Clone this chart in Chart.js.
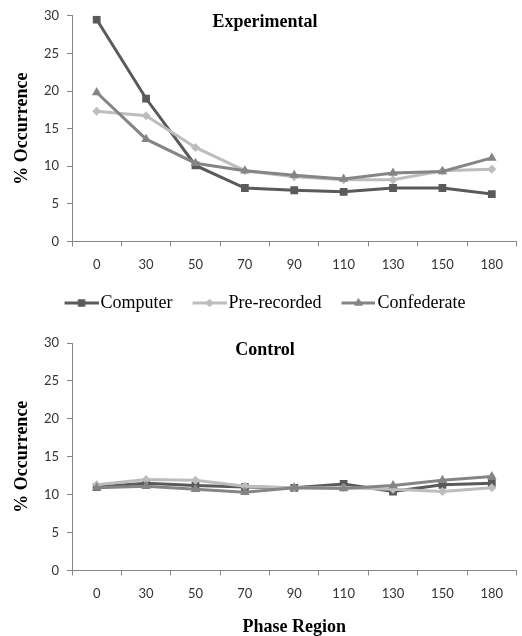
<!DOCTYPE html>
<html><head><meta charset="utf-8">
<script src="https://cdn.jsdelivr.net/npm/chart.js@4.4.0/dist/chart.umd.min.js"></script>
<style>
html,body{margin:0;padding:0;background:#fff;}
#wrap{width:522px;height:636px;position:relative;overflow:hidden;}
.box{position:absolute;left:0;width:522px;}
</style></head><body>
<div id="wrap">
  <div class="box" style="top:0;height:325px"><canvas id="c1" width="522" height="325"></canvas></div>
  <div class="box" style="top:325px;height:311px"><canvas id="c2" width="522" height="311"></canvas></div>
</div>
<script>
const phaseRegions = ['0','30','50','70','90','110','130','150','180'];
const seriesNames = ['Computer','Pre-recorded','Confederate'];
const expComputer    = [29.5, 19.0, 10.1, 7.1, 6.8, 6.6, 7.1, 7.1, 6.3];
const expPrerecorded = [17.3, 16.7, 12.5, 9.4, 8.6, 8.2, 8.2, 9.4, 9.6];
const expConfederate = [19.8, 13.6, 10.4, 9.4, 8.8, 8.3, 9.1, 9.3, 11.1];
const ctlComputer    = [11.0, 11.5, 11.2, 11.0, 10.9, 11.4, 10.4, 11.3, 11.5];
const ctlPrerecorded = [11.3, 12.0, 11.9, 11.1, 10.9, 10.9, 10.7, 10.4, 10.9];
const ctlConfederate = [10.9, 11.1, 10.7, 10.3, 10.9, 10.8, 11.2, 11.9, 12.4];
const yMin = 0, yMax = 30, yStep = 5;

const colors = ['#5a5a5a', '#bdbdbd', '#858585'];
const pStyles = ['rect', 'rectRot', 'triangle'];
const pRadius = [5.5, 4.5, 5.5];

// legend icon: transparent margin on the left, line + marker on the right
const ICON_W = 51, LINE_LEN = 34;
function makeIcon(i){
  const c = document.createElement('canvas');
  c.width = ICON_W; c.height = 12;
  const ctx = c.getContext('2d');
  const x0 = ICON_W - LINE_LEN;
  ctx.strokeStyle = colors[i]; ctx.lineWidth = 3;
  ctx.beginPath(); ctx.moveTo(x0,6); ctx.lineTo(ICON_W,6); ctx.stroke();
  ctx.fillStyle = colors[i];
  Chart.helpers.drawPoint(ctx, {pointStyle: pStyles[i], radius: pRadius[i]-0.5, rotation:0, borderWidth:0}, x0 + LINE_LEN/2, 6);
  ctx.fill();
  return c;
}

const panelTitle = {
  id: 'panelTitle',
  afterDatasetsDraw(chart, args, opts){
    if(!opts || !opts.text) return;
    const ctx = chart.ctx; ctx.save();
    ctx.font = 'bold 18px "Liberation Serif"';
    ctx.fillStyle = '#000'; ctx.textAlign = 'center'; ctx.textBaseline = 'middle';
    ctx.fillText(opts.text, opts.x, chart.chartArea.top + opts.dy);
    ctx.restore();
  }
};

function build(canvasId, title, values, showLegend, xTitle, padTop, padBottom){
  const icons = [0,1,2].map(makeIcon);
  const datasets = values.map((v,i)=>({
    label: seriesNames[i], data: v,
    borderColor: colors[i], backgroundColor: colors[i],
    borderWidth: 3, pointStyle: pStyles[i], pointRadius: pRadius[i],
    pointBackgroundColor: colors[i], pointBorderColor: colors[i], pointBorderWidth: 0,
    tension: 0, order: 3 - i
  }));
  const axisFont = {family:'Lato', size:13};
  return new Chart(document.getElementById(canvasId), {
    type: 'line',
    data: {labels: phaseRegions, datasets},
    plugins: [panelTitle],
    options: {
      responsive: false, animation: false,
      layout: {padding: {top: padTop, left: 0, right: 2, bottom: padBottom}},
      plugins: {
        tooltip: {enabled:false},
        panelTitle: {text: title, x: 265, dy: 7},
        legend: {
          display: showLegend, position: 'bottom',
          labels: {
            usePointStyle: true, pointStyleWidth: 37, boxHeight: 12, padding: 10,
            font: {family:'Liberation Serif', size:18}, color:'#000',
            generateLabels: (chart)=> chart.data.datasets.map((ds,i)=>({
              text: ds.label, pointStyle: icons[i], fillStyle:'rgba(0,0,0,0)',
              strokeStyle:'rgba(0,0,0,0)', lineWidth:0, hidden:false, datasetIndex:i, fontColor:'#000'
            }))
          }
        }
      },
      scales: {
        x: {
          type:'category', offset:true,
          grid: {offset:true, drawOnChartArea:false, drawTicks:true, tickLength:5, color:'#868686'},
          border: {color:'#868686'},
          ticks: {font: axisFont, color:'#333', padding: 11, maxRotation:0},
          title: {display: !!xTitle, text: xTitle || '', color:'#000',
                  font:{family:'Liberation Serif', size:18, weight:'bold', lineHeight:1.0}, padding:{top:5, bottom:0}}
        },
        y: {
          min: yMin, max: yMax,
          afterFit: (s)=>{ s.width = 72; },
          grid: {drawOnChartArea:false, drawTicks:true, tickLength:5, color:'#868686'},
          border: {color:'#868686'},
          ticks: {stepSize: yStep, font: axisFont, color:'#333', padding: 8},
          title: {display:true, text:'% Occurrence', color:'#000',
                  font:{family:'Liberation Serif', size:18, weight:'bold'}, padding:{top:12, bottom:0}}
        }
      }
    }
  });
}

build('c1', 'Experimental', [expComputer, expPrerecorded, expConfederate], true, null, 15, 3);
build('c2', 'Control', [ctlComputer, ctlPrerecorded, ctlConfederate], false, 'Phase Region', 18, 0);
</script>
</body></html>
